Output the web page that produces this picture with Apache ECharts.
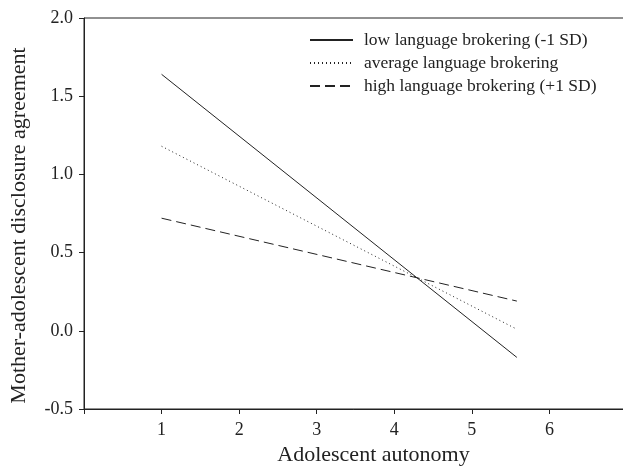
<!DOCTYPE html>
<html>
<head>
<meta charset="utf-8">
<script src="https://cdn.jsdelivr.net/npm/echarts@6/dist/echarts.min.js"></script>
<style>
  html, body { margin: 0; padding: 0; background: #fff; }
  #main { width: 623px; height: 469px; }
</style>
</head>
<body>
<div id="main"></div>
<script>
// values
var seriesNames = ['low language brokering (-1 SD)', 'average language brokering', 'high language brokering (+1 SD)'];
var autonomy = [1, 5.58];
var lowValues = [1.64, -0.17];
var avgValues = [1.18, 0.01];
var highValues = [0.72, 0.19];
var xTickLabels = ['1', '2', '3', '4', '5', '6'];

var font = 'Liberation Serif, Times New Roman, serif';
var ink = '#222';

function pairs(xs, ys) {
    var out = [];
    for (var i = 0; i < xs.length; i++) {
        out.push([xs[i], ys[i]]);
    }
    return out;
}

var myChart = echarts.init(document.getElementById('main'));

var lineSeries = function (name, values, dash) {
    return {
        name: name,
        type: 'line',
        data: pairs(autonomy, values),
        symbol: 'none',
        lineStyle: { color: ink, width: 1, type: dash },
        itemStyle: { color: ink },
        silent: true
    };
};

option = {
    animation: false,
    backgroundColor: '#fff',
    textStyle: { fontFamily: font, color: ink },
    grid: {
        left: 84, top: 18, width: 543, height: 391,
        outerBoundsMode: 'none',
        containLabel: false,
        show: true, borderColor: ink, borderWidth: 1
    },
    legend: {
        orient: 'vertical',
        left: 304, top: 26,
        itemWidth: 43, itemHeight: 14, itemGap: 5,
        itemStyle: { opacity: 0 },
        textStyle: { fontFamily: font, fontSize: 17.5, color: ink, padding: [0, 0, 0, 6] },
        data: seriesNames
    },
    xAxis: {
        type: 'value',
        min: 0, max: 7, interval: 1,
        name: 'Adolescent autonomy',
        nameLocation: 'middle',
        nameGap: 30,
        nameTextStyle: { fontFamily: font, fontSize: 22, color: ink, padding: [0, 0, 0, 36] },
        axisLine: { show: true, onZero: false, lineStyle: { color: ink } },
        axisTick: { show: true, length: 5, lineStyle: { color: ink } },
        axisLabel: {
            fontFamily: font, fontSize: 18, color: ink, margin: 12,
            formatter: function (v) { return xTickLabels.indexOf(String(v)) >= 0 ? String(v) : ''; }
        },
        splitLine: { show: false }
    },
    yAxis: {
        type: 'value',
        min: -0.5, max: 2.0, interval: 0.5,
        name: 'Mother-adolescent disclosure agreement',
        nameLocation: 'middle',
        nameGap: 54,
        nameTextStyle: { fontFamily: font, fontSize: 22, color: ink, padding: [0, 24, 0, 0] },
        axisLine: { show: true, onZero: false, lineStyle: { color: ink } },
        axisTick: { show: true, length: 5, lineStyle: { color: ink } },
        axisLabel: {
            fontFamily: font, fontSize: 18, color: ink, margin: 11,
            formatter: function (v) { return v.toFixed(1); }
        },
        splitLine: { show: false }
    },
    series: [
        lineSeries(seriesNames[0], lowValues, 'solid'),
        lineSeries(seriesNames[1], avgValues, [1, 3]),
        lineSeries(seriesNames[2], highValues, [10, 5])
    ]
};
myChart.setOption(option);
</script>
</body>
</html>
